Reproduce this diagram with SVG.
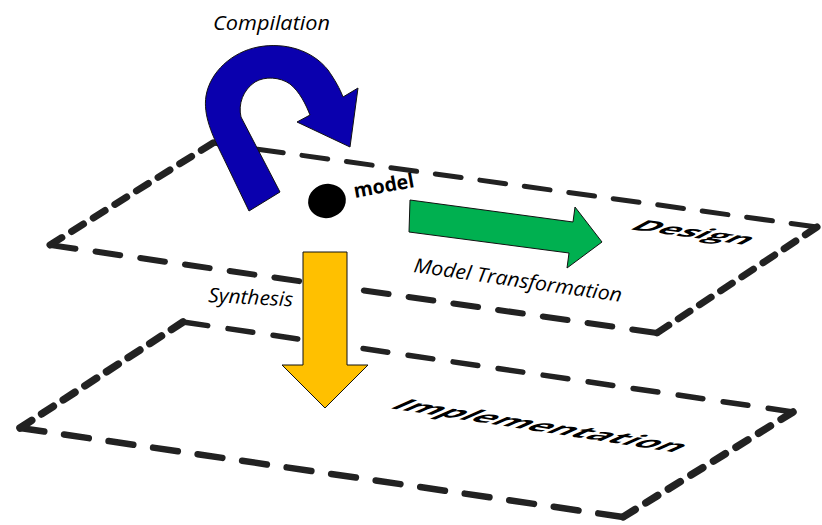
<svg xmlns="http://www.w3.org/2000/svg" width="822" height="525" viewBox="0 0 822 525">
  <style>
    .edge { fill: none; stroke: #222; stroke-linecap: round; }
    .lbl { font-family: "Open Sans", "Noto Sans", sans-serif; fill: #000; }
    .it { font-style: italic; }
    .plane-lbl { font-family: "Open Sans", "Noto Sans", sans-serif; font-weight: 700; font-size: 20px; fill: #000; }
    .arrow { stroke: #111; stroke-width: 1; stroke-linejoin: miter; }
  </style>

  <rect width="822" height="525" fill="#fff"/>

  <!-- lower layer: Implementation -->
  <g id="plane-implementation">
    <line class="edge" x1="183" y1="322" x2="793" y2="412" stroke-width="5.5" stroke-dasharray="25 20.5"/>
    <line class="edge" x1="793" y1="412" x2="623" y2="517" stroke-width="7.5" stroke-dasharray="14 12.5"/>
    <line class="edge" x1="623" y1="517" x2="20" y2="428" stroke-width="6.5" stroke-dasharray="25 20"/>
    <line class="edge" x1="20" y1="428" x2="183" y2="322" stroke-width="7.5" stroke-dasharray="14 11.8"/>
    <text class="plane-lbl" transform="matrix(0.988 0.153 -1.45 0.64 388 408)" textLength="290" lengthAdjust="spacingAndGlyphs">Implementation</text>
  </g>

  <!-- upper layer: Design -->
  <g id="plane-design">
    <line class="edge" x1="213" y1="143" x2="817" y2="227" stroke-width="5" stroke-dasharray="26 18.9"/>
    <line class="edge" x1="817" y1="227" x2="657" y2="333" stroke-width="7" stroke-dasharray="14 11.4"/>
    <line class="edge" x1="657" y1="333" x2="50" y2="245" stroke-width="6" stroke-dasharray="25 20.2"/>
    <line class="edge" x1="50" y1="245" x2="213" y2="143" stroke-width="7" stroke-dasharray="14 11.5"/>
    <text class="plane-lbl" transform="matrix(0.994 0.135 -1.2 0.64 628 229)" textLength="117" lengthAdjust="spacingAndGlyphs">Design</text>
  </g>

  <!-- the model element on the design layer -->
  <g id="node-model">
    <ellipse cx="327" cy="201" rx="19" ry="17" fill="#000" transform="rotate(-15 327 201)"/>
    <text class="lbl" font-weight="700" font-size="20" transform="translate(355 198) rotate(-10.4)" textLength="61" lengthAdjust="spacingAndGlyphs">model</text>
  </g>

  <g id="connectors">
    <!-- Synthesis: design down to implementation -->
    <g id="edge-synthesis">
      <path class="arrow" fill="#FFC000" d="M303,252 L347,252 L347,365 L368,365 L325,408 L282,365 L303,365 Z"/>
      <text class="lbl it" font-size="20" transform="translate(208 302) rotate(3)" textLength="85" lengthAdjust="spacingAndGlyphs">Synthesis</text>
    </g>
    <!-- Model Transformation within the design layer -->
    <g id="edge-transformation">
      <path class="arrow" fill="#00B050" d="M410,200 L573,222 L575,207 L602,242 L567,268 L569,253 L409,232 Z"/>
      <text class="lbl it" font-size="20" transform="translate(413 272) rotate(8.2)" textLength="210" lengthAdjust="spacingAndGlyphs">Model Transformation</text>
    </g>
    <!-- Compilation: curved self-loop -->
    <g id="edge-compilation">
      <path class="arrow" fill="#0A00AE" d="M249,211 L223,157 C212,135 203,115 206,96 C210,72 232,52 258,47 C285,42 312,50 328,70 C335,80 340,89 343,97 L358,88 L350,147 L297,122 L310,115 C306,105 300,92 290,84 C280,77 265,76 255,82 C243,90 238,104 241,117 L280,192 Z"/>
      <text class="lbl it" font-size="20" x="213" y="30" textLength="117" lengthAdjust="spacingAndGlyphs">Compilation</text>
    </g>
  </g>
</svg>
